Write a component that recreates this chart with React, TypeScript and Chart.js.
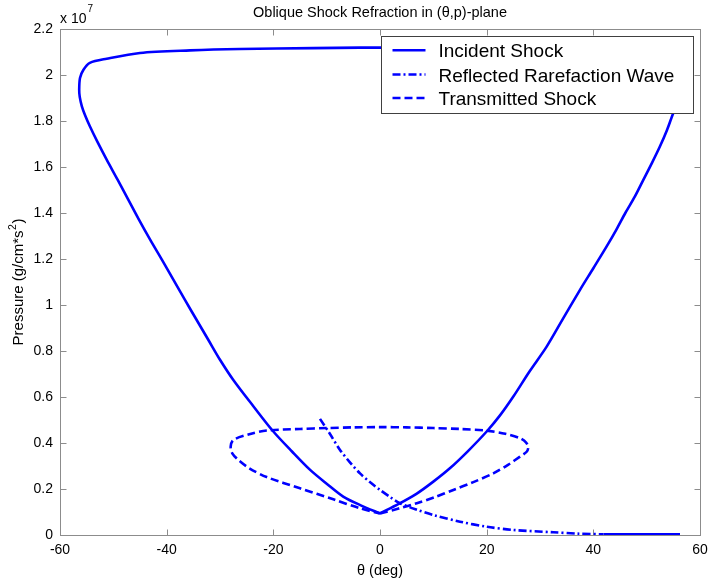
import React, { useEffect, useRef } from "react";
import { Chart, registerables } from "chart.js";
Chart.register(...registerables);

const FONT = "'Liberation Sans', Arial, Helvetica, sans-serif";
const BLUE = "#0000ff";
const AXIS = "#8c8c8c";

const chartTitle = "Oblique Shock Refraction in (\u03b8,p)-plane";
const xTitle = "\u03b8 (deg)";
const yTitleMain = "Pressure (g/cm*s";
const yTitleSup = "2";
const yTitleEnd = ")";
const yExponentBase = "x 10";
const yExponent = "7";
const seriesLabels = ["Incident Shock", "Reflected Rarefaction Wave", "Transmitted Shock"];

// x: flow deflection angle θ (deg); y: pressure in units of 1e7 g/(cm*s^2)
const xMin = -60, xMax = 60, xStep = 20;
const yMin = 0, yMax = 2.2, yStep = 0.2;

const incidentTheta = [
  0, -3.5, -6.9, -10, -13.1, -16.5, -20, -23.75, -27.5, -30, -32.2, -34.4, -36.6, -38.75, -40.9, -43.1,
  -45.2, -47.2, -49.2, -51.25, -53.0, -54.4, -55.3, -55.9, -56.3, -56.4, -56.25, -55.6, -54.4, -51.25,
  -45, -35.6, -26.25, -12.5, -3.75,
  3.75, 12.5, 26.25, 35.6, 45, 51.25, 54.4, 55.6, 56.25, 56.4, 56.0, 55, 53.8, 52.5,
  51, 49.4, 47.8, 46, 44.3, 42.5, 40, 37.5, 34.4, 31.25, 28, 25, 22.5, 20, 16.5, 13.1, 10, 6.9, 3.5, 0,
];
const incidentP = [
  0.094, 0.128, 0.167, 0.223, 0.283, 0.363, 0.45, 0.56, 0.674, 0.762, 0.849, 0.936, 1.023, 1.11, 1.197, 1.284,
  1.371, 1.458, 1.545, 1.632, 1.71, 1.777, 1.825, 1.864, 1.905, 1.936, 1.987, 2.023, 2.053, 2.071,
  2.096, 2.107, 2.113, 2.117, 2.119,
  2.119, 2.117, 2.113, 2.107, 2.096, 2.071, 2.053, 2.023, 1.987, 1.936, 1.885, 1.835, 1.76, 1.69,
  1.618, 1.545, 1.472, 1.4, 1.327, 1.255, 1.16, 1.066, 0.944, 0.819, 0.71, 0.602, 0.52, 0.45, 0.365, 0.29, 0.232, 0.18, 0.135, 0.094,
];
const incidentTailTheta = [41.9, 56.25];
const incidentTailP = [0.003, 0.003];

const rarefactionTheta = [-11.25, -9.4, -7.5, -5.6, -3.75, -1.9, 0, 1.9, 3.75, 6.9, 10, 15, 20, 25, 32.5, 37, 41.9];
const rarefactionP = [0.505, 0.44, 0.37, 0.315, 0.268, 0.23, 0.196, 0.165, 0.138, 0.11, 0.087, 0.058, 0.036, 0.022, 0.012, 0.006, 0.003];

const transmittedTheta = [
  0, 3.5, 6.9, 10.3, 13.75, 17.5, 21.25, 24, 26.25, 27.5, 27.8, 27.4, 26.25, 23.5, 20, 15, 10, 5, 0,
  -5, -10, -15, -21.25, -24.5, -27.5, -28, -27.7, -26.5, -24.5, -21.25, -15, -8.75, -3.75, 0,
];
const transmittedP = [
  0.094, 0.115, 0.138, 0.165, 0.196, 0.23, 0.268, 0.305, 0.341, 0.362, 0.382, 0.402, 0.421, 0.44, 0.454, 0.461, 0.465, 0.468, 0.469,
  0.468, 0.465, 0.461, 0.454, 0.438, 0.413, 0.384, 0.355, 0.325, 0.29, 0.252, 0.203, 0.155, 0.116, 0.094,
];

const DASH_DOT = [8, 3, 2, 3];
const DASHED = [8, 4];

const pts = (xs: number[], ys: number[]) => xs.map((x, i) => ({ x, y: ys[i] }));

const framePlugin = {
  id: "matlabFrame",
  beforeDatasetsDraw(chart: any) {
    const { ctx, chartArea: a, scales } = chart;
    const L = Math.round(a.left) + 0.5, R = Math.round(a.right) + 0.5;
    const T = Math.round(a.top) + 0.5, B = Math.round(a.bottom) + 0.5;
    ctx.save();
    ctx.strokeStyle = AXIS;
    ctx.lineWidth = 1;
    ctx.strokeRect(L, T, R - L, B - T);
    ctx.beginPath();
    for (const t of scales.x.ticks) {
      const px = Math.round(scales.x.getPixelForValue(t.value)) + 0.5;
      ctx.moveTo(px, B); ctx.lineTo(px, B - 6);
      ctx.moveTo(px, T); ctx.lineTo(px, T + 6);
    }
    for (const t of scales.y.ticks) {
      const py = Math.round(scales.y.getPixelForValue(t.value)) + 0.5;
      ctx.moveTo(L, py); ctx.lineTo(L + 6, py);
      ctx.moveTo(R, py); ctx.lineTo(R - 6, py);
    }
    ctx.stroke();
    ctx.restore();
  },
};

const textPlugin = {
  id: "matlabText",
  afterDatasetsDraw(chart: any) {
    const { ctx, chartArea: a } = chart;
    ctx.save();
    // legend
    const bx = Math.round(a.right) - 318.5, by = 36.5, bw = 312, bh = 77;
    ctx.fillStyle = "#ffffff";
    ctx.fillRect(bx, by, bw, bh);
    ctx.strokeStyle = "#404040";
    ctx.lineWidth = 1;
    ctx.strokeRect(bx, by, bw, bh);
    const dashes = [[], DASH_DOT, DASHED];
    const baselines = [57.3, 81.5, 105];
    seriesLabels.forEach((lab, i) => {
      const ly = baselines[i] - 7;
      ctx.beginPath();
      ctx.setLineDash(dashes[i]);
      ctx.strokeStyle = BLUE;
      ctx.lineWidth = 2.6;
      ctx.moveTo(bx + 11, ly);
      ctx.lineTo(bx + 44, ly);
      ctx.stroke();
      ctx.setLineDash([]);
      ctx.fillStyle = "#000";
      ctx.font = `19px ${FONT}`;
      ctx.textAlign = "left";
      ctx.textBaseline = "alphabetic";
      ctx.fillText(lab, bx + 57, baselines[i]);
    });
    ctx.restore();
  },
  afterDraw(chart: any) {
    const { ctx, chartArea: a } = chart;
    const cx = (a.left + a.right) / 2;
    const cy = (a.top + a.bottom) / 2;
    ctx.save();
    ctx.fillStyle = "#000";
    ctx.textBaseline = "alphabetic";
    // title
    ctx.font = `14.5px ${FONT}`;
    ctx.textAlign = "center";
    ctx.fillText(chartTitle, cx, 16.5);
    // x title
    ctx.font = `14.5px ${FONT}`;
    ctx.fillText(xTitle, cx, 575);
    // exponent
    ctx.textAlign = "left";
    ctx.font = `14px ${FONT}`;
    ctx.fillText(yExponentBase, a.left, 22.5);
    const w = ctx.measureText(yExponentBase).width;
    ctx.font = `10px ${FONT}`;
    ctx.fillText(yExponent, a.left + w + 1, 12);
    // y title rotated
    ctx.translate(23, cy);
    ctx.rotate(-Math.PI / 2);
    ctx.font = `15px ${FONT}`;
    const w1 = ctx.measureText(yTitleMain).width;
    ctx.font = `10.5px ${FONT}`;
    const w2 = ctx.measureText(yTitleSup).width;
    ctx.font = `15px ${FONT}`;
    const w3 = ctx.measureText(yTitleEnd).width;
    const total = w1 + w2 + w3 + 1;
    let sx = -total / 2;
    ctx.textAlign = "left";
    ctx.fillText(yTitleMain, sx, 0);
    sx += w1 + 0.5;
    ctx.font = `10.5px ${FONT}`;
    ctx.fillText(yTitleSup, sx, -7);
    sx += w2 + 0.5;
    ctx.font = `15px ${FONT}`;
    ctx.fillText(yTitleEnd, sx, 0);
    ctx.restore();
  },
};

export default function App() {
  const ref = useRef<HTMLCanvasElement>(null);
  useEffect(() => {
    document.body.style.margin = "0";
    const lineBase = {
      borderColor: BLUE,
      backgroundColor: BLUE,
      borderWidth: 2.6,
      pointRadius: 0,
      showLine: true,
      tension: 0.3,
      fill: false,
      borderJoinStyle: "round" as const,
    };
    const chart = new Chart(ref.current!, {
      type: "scatter",
      data: {
        datasets: [
          { ...lineBase, label: seriesLabels[0], data: pts(incidentTheta, incidentP) },
          { ...lineBase, label: seriesLabels[1], data: pts(rarefactionTheta, rarefactionP), borderDash: DASH_DOT },
          { ...lineBase, label: seriesLabels[2], data: pts(transmittedTheta, transmittedP), borderDash: DASHED },
          { ...lineBase, label: "", tension: 0, data: pts(incidentTailTheta, incidentTailP) },
        ],
      },
      options: {
        animation: false,
        responsive: false,
        devicePixelRatio: 1,
        layout: { padding: { left: 0, right: 9, top: 29, bottom: 0 } },
        plugins: { legend: { display: false }, tooltip: { enabled: false }, title: { display: false } },
        scales: {
          x: {
            type: "linear",
            min: xMin,
            max: xMax,
            grid: { display: false, drawTicks: false },
            border: { display: false },
            ticks: {
              stepSize: xStep,
              color: "#000",
              padding: 7,
              maxRotation: 0,
              autoSkip: false,
              font: { family: FONT, size: 14 },
              callback: (v: any) => String(v),
            },
            afterFit: (s: any) => { s.height = 46; s.paddingLeft = 0; s.paddingRight = 0; },
          },
          y: {
            type: "linear",
            min: yMin,
            max: yMax,
            grid: { display: false, drawTicks: false },
            border: { display: false },
            ticks: {
              stepSize: yStep,
              color: "#000",
              padding: 7,
              autoSkip: false,
              font: { family: FONT, size: 14 },
              callback: (v: any) => Number(v).toFixed(1).replace(/\.0$/, ""),
            },
            afterFit: (s: any) => { s.width = 60; s.paddingTop = 0; s.paddingBottom = 0; },
          },
        },
      },
      plugins: [framePlugin, textPlugin],
    });
    return () => chart.destroy();
  }, []);
  return (
    <div style={{ width: 709, height: 581 }}>
      <canvas ref={ref} width={709} height={581} style={{ display: "block" }} />
    </div>
  );
}
